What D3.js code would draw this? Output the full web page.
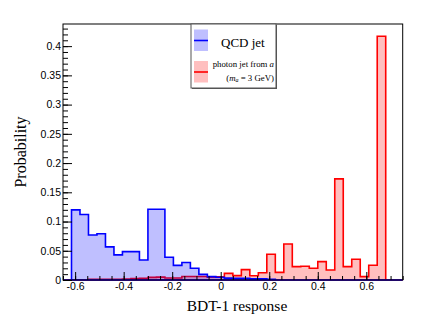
<!DOCTYPE html>
<html><head><meta charset="utf-8">
<script src="https://cdn.jsdelivr.net/npm/d3@7"></script>
<style>body{margin:0;background:#fff}svg{display:block}</style>
</head><body>
<svg id="c" width="436" height="327"></svg>
<script>
// Histogram binning: 40 bins from -0.65 to 0.75
const xMin = -0.65, xMax = 0.75, nBins = 40;
const qcdValues = [0,0.120,0.112,0.077,0.079,0.0566,0.043,0.0486,0.0486,0.0343,
  0.121,0.121,0.039,0.025,0.030,0.020,0.0097,0.0057,0.0046,0.0032,
  0.003,0.003,0.0022,0.002,0.001,0,0,0,0,0,
  0,0,0,0,0,0,0,0,0,0];
const photonValues = [0,0.0005,0.0005,0.001,0.001,0.001,0.0012,0.0015,0.0025,0.003,
  0.0045,0.005,0.0035,0.0035,0.006,0.006,0.006,0.005,0.0055,0.0114,
  0.0074,0.0177,0.0072,0.0125,0.044,0.0131,0.0617,0.0229,0.0234,0.020,
  0.0314,0.0171,0.173,0.0229,0.0354,0.0057,0.0251,0.417,0,0];
const yMajorTicks = [0,0.05,0.1,0.15,0.2,0.25,0.3,0.35,0.4];
const xMajorTicks = [-0.6,-0.4,-0.2,0,0.2,0.4,0.6];
const legendLabels = ["QCD jet", "photon jet from a"];

const svg = d3.select("#c");
const L = 63, R = 402.7, T = 24, B = 280;
const x = d3.scaleLinear().domain([xMin, xMax]).range([L, R]);
const y = d3.scaleLinear().domain([0, 0.417*1.05]).range([B, T]);
const bw = (xMax - xMin) / nBins;

function stepPath(vals){
  let p = `M${x(xMin)},${y(0)}`;
  vals.forEach((v,i)=>{
    const x0 = x(xMin + i*bw), x1 = x(xMin + (i+1)*bw);
    p += `L${x0},${y(v)}L${x1},${y(v)}`;
  });
  p += `L${x(xMax)},${y(0)}Z`;
  return p;
}

// photon (red) first, then QCD (blue) on top
svg.append("path").attr("d", stepPath(photonValues))
  .attr("fill", "rgba(255,0,0,0.25)").attr("stroke", "#ff0000").attr("stroke-width", 1.6)
  .attr("stroke-linejoin","miter");
svg.append("path").attr("d", stepPath(qcdValues))
  .attr("fill", "rgba(0,0,255,0.25)").attr("stroke", "#0000ff").attr("stroke-width", 1.6)
  .attr("stroke-linejoin","miter");

// frame
svg.append("rect").attr("x", L).attr("y", T).attr("width", R-L).attr("height", B-T)
  .attr("fill", "none").attr("stroke", "#000").attr("stroke-width", 1);

const tickFont = "'Liberation Sans', Arial, sans-serif";
// y axis
const yMinor = d3.range(0, 0.4385, 0.01);
svg.append("g").attr("transform", `translate(${L},0)`)
  .call(d3.axisLeft(y).tickValues(yMinor).tickSize(-5).tickFormat("").tickSizeOuter(0))
  .call(g=>g.select(".domain").remove());
svg.append("g").attr("transform", `translate(${L},0)`)
  .call(d3.axisLeft(y).tickValues(yMajorTicks).tickSize(-9).tickPadding(2)
    .tickFormat(d=>String(+d.toFixed(2))).tickSizeOuter(0))
  .call(g=>g.select(".domain").remove())
  .call(g=>g.selectAll("text").attr("font-family", tickFont).attr("font-size", 10.5).attr("fill","#000"));

// x axis
const xMinor = d3.range(-0.65, 0.751, 0.05).map(v=>+v.toFixed(2));
svg.append("g").attr("transform", `translate(0,${B})`)
  .call(d3.axisBottom(x).tickValues(xMinor).tickSize(-4).tickFormat("").tickSizeOuter(0))
  .call(g=>g.select(".domain").remove());
svg.append("g").attr("transform", `translate(0,${B})`)
  .call(d3.axisBottom(x).tickValues(xMajorTicks).tickSize(-8).tickPadding(3)
    .tickFormat(d=>String(+d.toFixed(1))).tickSizeOuter(0))
  .call(g=>g.select(".domain").remove())
  .call(g=>g.selectAll("text").attr("font-family", tickFont).attr("font-size", 10.5).attr("fill","#000"));

const serif = "'Liberation Serif', 'DejaVu Serif', serif";
// axis titles
svg.append("text").attr("x", 237).attr("y", 311).attr("text-anchor", "middle")
  .attr("font-family", serif).attr("font-size", 15.5).text("BDT-1 response");
svg.append("text").attr("transform", "translate(26,152) rotate(-90)").attr("text-anchor", "middle")
  .attr("font-family", serif).attr("font-size", 16).text("Probability");

// legend
const lg = svg.append("g");
lg.append("rect").attr("x", 192).attr("y", 25).attr("width", 85).attr("height", 64).attr("fill", "#555");
lg.append("rect").attr("x", 191).attr("y", 24).attr("width", 85).attr("height", 64)
  .attr("fill", "#fff").attr("stroke", "#555").attr("stroke-width", 1);
// entries
lg.append("rect").attr("x", 194).attr("y", 29.5).attr("width", 14).attr("height", 21.5).attr("fill", "rgba(0,0,255,0.25)");
lg.append("line").attr("x1", 194).attr("x2", 208).attr("y1", 40.5).attr("y2", 40.5).attr("stroke", "#0000ff").attr("stroke-width", 1.6);
lg.append("text").attr("x", 221).attr("y", 46.5).attr("font-family", serif).attr("font-size", 13).text(legendLabels[0]);
lg.append("rect").attr("x", 194).attr("y", 61).attr("width", 14).attr("height", 21.5).attr("fill", "rgba(255,0,0,0.25)");
lg.append("line").attr("x1", 194).attr("x2", 208).attr("y1", 72).attr("y2", 72).attr("stroke", "#ff0000").attr("stroke-width", 1.6);
const t1 = lg.append("text").attr("x", 274).attr("y", 66.5).attr("text-anchor", "end")
  .attr("font-family", serif).attr("font-size", 8.8);
t1.append("tspan").text("photon jet from ");
t1.append("tspan").attr("font-style", "italic").text("a");
const t2 = lg.append("text").attr("x", 274).attr("y", 80.5).attr("text-anchor", "end")
  .attr("font-family", serif).attr("font-size", 8.8);
t2.append("tspan").text("(");
t2.append("tspan").attr("font-style", "italic").text("m");
t2.append("tspan").attr("font-style", "italic").attr("font-size", 6).attr("dy", 1.5).text("a");
t2.append("tspan").attr("dy", -1.5).text(" = 3 GeV)");
</script>
</body></html>
